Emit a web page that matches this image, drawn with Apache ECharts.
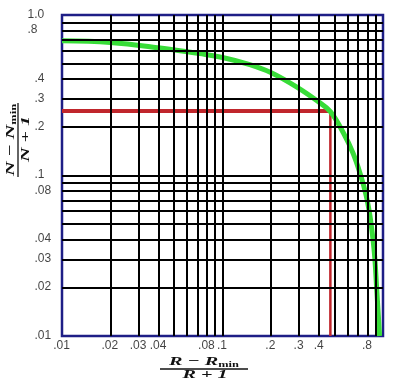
<!DOCTYPE html>
<html><head><meta charset="utf-8">
<script src="https://cdn.jsdelivr.net/npm/echarts@6/dist/echarts.min.js"></script>
<style>html,body{margin:0;padding:0;background:#fff}#c{width:400px;height:382px}</style>
</head><body><div id="c"></div><script>
// ---- data ----
const xGridValues = [0.02,0.03,0.04,0.05,0.06,0.07,0.08,0.09,0.1,0.2,0.3,0.4,0.5,0.6,0.7,0.8,0.9];
const yGridValues = [0.02,0.03,0.04,0.05,0.06,0.07,0.08,0.09,0.1,0.2,0.3,0.4,0.5,0.6,0.7,0.8,0.9];
const xTickLabels = [0.01,0.02,0.03,0.04,0.08,0.1,0.2,0.3,0.4,0.8];
const yTickLabels = [1.0,0.8,0.4,0.3,0.2,0.1,0.08,0.04,0.03,0.02,0.01];
const curveX = [0.01,0.02,0.041,0.072,0.1,0.148,0.2,0.294,0.394,0.47,0.567,0.65,0.724,0.784,0.828,0.86,0.889,0.912,0.935,0.952];
const curveY = [0.69,0.675,0.623,0.575,0.544,0.491,0.438,0.353,0.289,0.25,0.184,0.138,0.101,0.0756,0.0567,0.0426,0.0306,0.0202,0.0135,0.01];
const readX = 0.47;
const readY = 0.252;
const axisMin = 0.01, axisMax = 1;

const fmt = v => v >= 1 ? '1.0' : String(+v.toPrecision(3)).replace(/^0/, '');
const labelFont = 'Liberation Sans';
const serif = '"Liberation Serif", "DejaVu Serif", serif';

const chart = echarts.init(document.getElementById('c'), null, {renderer: 'canvas'});

function fraction(num, den, opts) {
  const rich = {
    a: {font: 'italic bold 13px ' + serif, fill: '#111', lineHeight: 14},
    b: {font: 'bold 8px ' + serif, fill: '#111', lineHeight: 8, verticalAlign: 'bottom'}
  };
  return {
    type: 'group', x: opts.x, y: opts.y, rotation: opts.rotation || 0,
    children: [
      {type: 'text', x: 0, y: opts.numY, scaleX: opts.sx,
       style: {text: '{a|' + num + '}{b|min}', rich: rich, align: 'center', verticalAlign: 'middle'}},
      {type: 'line', shape: {x1: -opts.half, y1: 0, x2: opts.half, y2: 0},
       style: {stroke: '#111', lineWidth: 1.3}},
      {type: 'text', x: 1, y: opts.denY, scaleX: opts.sx,
       style: {text: den, font: 'italic bold 13px ' + serif, fill: '#111', align: 'center', verticalAlign: 'middle'}}
    ]
  };
}

const option = {
  animation: false,
  backgroundColor: '#fff',
  grid: {left: 62, top: 15, width: 321, height: 321, show: true,
         borderColor: '#1e1e86', borderWidth: 2.5, backgroundColor: '#fff',
         containLabel: false, outerBoundsMode: 'none'},
  xAxis: {type: 'log', logBase: 10, min: axisMin, max: axisMax,
          axisLine: {show: false}, axisTick: {show: false}, axisLabel: {show: false}, splitLine: {show: false}},
  yAxis: {type: 'log', logBase: 10, min: axisMin, max: axisMax,
          axisLine: {show: false}, axisTick: {show: false}, axisLabel: {show: false}, splitLine: {show: false}},
  series: [
    {type: 'line', data: [], silent: true, z: 1,
     markLine: {silent: true, symbol: ['none', 'none'], animation: false, label: {show: false},
                emphasis: {disabled: true},
                lineStyle: {color: '#000', width: 2, type: 'solid'},
                data: xGridValues.map(v => ({xAxis: v})).concat(yGridValues.map(v => ({yAxis: v})))}},
    {type: 'line', data: [[axisMin, readY], [readX, readY]], symbol: 'none', silent: true, z: 3,
     lineStyle: {color: '#c0262c', width: 4}},
    {type: 'line', data: [[readX, readY], [readX, axisMin]], symbol: 'none', silent: true, z: 3,
     lineStyle: {color: '#c0262c', width: 2.5}},
    {type: 'line', data: curveX.map((x, i) => [x, curveY[i]]), smooth: 0.4, symbol: 'none', silent: true, z: 4,
     lineStyle: {color: '#38dc38', width: 5}},
    {type: 'scatter', clip: false, silent: true, z: 5, symbolSize: 1, itemStyle: {color: 'rgba(0,0,0,0)'},
     data: xTickLabels.map(v => [v, axisMin]),
     label: {show: true, position: [0, 10], align: 'center', verticalAlign: 'middle',
             fontFamily: labelFont, fontSize: 12, color: '#111',
             formatter: p => fmt(p.value[0])}},
    {type: 'scatter', clip: false, silent: true, z: 5, symbolSize: 1, itemStyle: {color: 'rgba(0,0,0,0)'},
     data: yTickLabels.map(v => ({value: [axisMin, v],
            label: {position: v >= 0.8 ? [-34, 0] : [-27, 0]}})),
     label: {show: true, align: 'left', verticalAlign: 'middle',
             fontFamily: labelFont, fontSize: 12, color: '#111',
             formatter: p => fmt(p.value[1])}}
  ],
  graphic: [
    fraction('R − R', 'R + 1', {x: 204, y: 369, numY: -7, denY: 6, sx: 1.55, half: 44}),
    fraction('N − N', 'N + 1', {x: 18, y: 140, rotation: Math.PI / 2, numY: -7, denY: 8, sx: 1.55, half: 37})
  ]
};
chart.setOption(option);
</script></body></html>
